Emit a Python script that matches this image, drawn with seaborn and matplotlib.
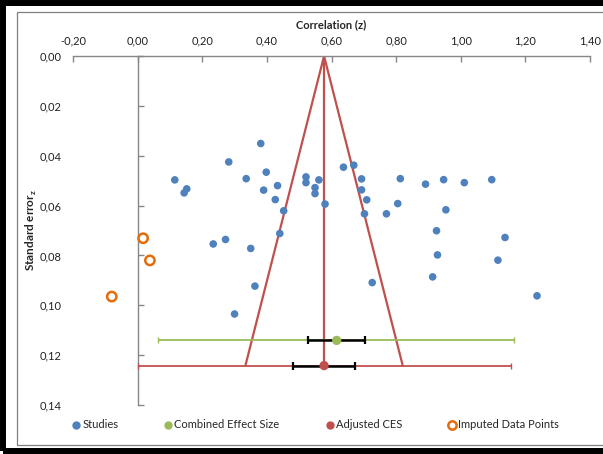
import matplotlib
matplotlib.use("Agg")
import matplotlib.pyplot as plt
import seaborn as sns
import pandas as pd
from matplotlib.patches import Rectangle
from matplotlib.lines import Line2D

# ---- data ----
study_z = [0.115, 0.144, 0.152, 0.282, 0.381, 0.336, 0.398, 0.390, 0.433, 0.426,
           0.452, 0.440, 0.521, 0.521, 0.561, 0.549, 0.549, 0.580, 0.637, 0.234,
           0.272, 0.350, 0.363, 0.300, 0.669, 0.693, 0.693, 0.709, 0.702, 0.726,
           0.770, 0.805, 0.813, 0.891, 0.947, 1.011, 1.096, 0.954, 0.925, 0.928,
           0.913, 1.137, 1.115, 1.236]
study_se = [0.0497, 0.0549, 0.0533, 0.0425, 0.0351, 0.0492, 0.0466, 0.0538, 0.0520, 0.0576,
            0.0621, 0.0712, 0.0485, 0.0508, 0.0497, 0.0528, 0.0552, 0.0594, 0.0446, 0.0754,
            0.0736, 0.0772, 0.0923, 0.1035, 0.0438, 0.0493, 0.0537, 0.0577, 0.0633, 0.0909,
            0.0633, 0.0592, 0.0492, 0.0514, 0.0496, 0.0508, 0.0496, 0.0617, 0.0701, 0.0798,
            0.0886, 0.0728, 0.0819, 0.0962]
imputed_z = [0.017, 0.038, -0.080]
imputed_se = [0.0731, 0.0820, 0.0965]

ces_z, ces_se = 0.616, 0.1141
ces_ci = [0.526, 0.705]
ces_pi = [0.064, 1.164]
adj_z, adj_se = 0.577, 0.1242
adj_ci = [0.481, 0.672]
adj_pi = [0.0, 1.157]
funnel_crit = 1.96

x_ticks = [-0.2, 0.0, 0.2, 0.4, 0.6, 0.8, 1.0, 1.2, 1.4]
x_labels = ["-0,20", "0,00", "0,20", "0,40", "0,60", "0,80", "1,00", "1,20", "1,40"]
y_ticks = [0.0, 0.02, 0.04, 0.06, 0.08, 0.10, 0.12, 0.14]
y_labels = ["0,00", "0,02", "0,04", "0,06", "0,08", "0,10", "0,12", "0,14"]
legend_labels = ["Studies", "Combined Effect Size", "Adjusted CES", "Imputed Data Points"]

BLUE = "#4F81BD"
GREEN = "#9BBB59"
RED = "#C0504D"
ORANGE = "#E46C0A"
GREY = "#868686"

sns.set_theme(style="white")
plt.rcParams["font.family"] = ["Lato", "DejaVu Sans"]
plt.rcParams["mathtext.fontset"] = "custom"
plt.rcParams["mathtext.bf"] = "Lato:bold"

W, H = 603, 454
fig = plt.figure(figsize=(W / 100, H / 100), dpi=100)
fig.patch.set_facecolor("white")
ax = fig.add_axes([73 / W, 1 - 405 / H, (590 - 73) / W, (405 - 56) / H])
ax.set_facecolor("white")

# funnel
ax.plot([adj_z - funnel_crit * adj_se, adj_z, adj_z + funnel_crit * adj_se],
        [adj_se, 0, adj_se], color=RED, lw=1.6, zorder=2)
ax.plot([adj_z, adj_z], [0, adj_se], color=RED, lw=1.6, zorder=2)

# studies and imputed points
df_s = pd.DataFrame({"z": study_z, "se": study_se})
sns.scatterplot(data=df_s, x="z", y="se", ax=ax, color=BLUE, s=30,
                edgecolor="none", zorder=4, legend=False)
df_i = pd.DataFrame({"z": imputed_z, "se": imputed_se})
sns.scatterplot(data=df_i, x="z", y="se", ax=ax, facecolor="none", edgecolor=ORANGE,
                linewidth=1.8, s=45, zorder=4, legend=False)

# combined effect size
ax.errorbar([ces_z], [ces_se], xerr=[[ces_z - ces_pi[0]], [ces_pi[1] - ces_z]],
            fmt="none", ecolor=GREEN, elinewidth=1.3, capsize=2.5, capthick=1.0, zorder=3)
ax.errorbar([ces_z], [ces_se], xerr=[[ces_z - ces_ci[0]], [ces_ci[1] - ces_z]],
            fmt="none", ecolor="black", elinewidth=1.8, capsize=3, capthick=1.6, zorder=3)
sns.scatterplot(x=[ces_z], y=[ces_se], ax=ax, color=GREEN, s=45, edgecolor="none",
                zorder=5, legend=False)

# adjusted CES
ax.errorbar([adj_z], [adj_se], xerr=[[adj_z - adj_pi[0]], [adj_pi[1] - adj_z]],
            fmt="none", ecolor=RED, elinewidth=1.3, capsize=2.5, capthick=1.0, zorder=3)
ax.errorbar([adj_z], [adj_se], xerr=[[adj_z - adj_ci[0]], [adj_ci[1] - adj_z]],
            fmt="none", ecolor="black", elinewidth=1.8, capsize=3, capthick=1.6, zorder=3)
sns.scatterplot(x=[adj_z], y=[adj_se], ax=ax, color=RED, s=45, edgecolor="none",
                zorder=5, legend=False)

# axes
ax.set_xlim(x_ticks[0], x_ticks[-1])
ax.set_ylim(y_ticks[-1], y_ticks[0])
for side in ["left", "right", "bottom"]:
    ax.spines[side].set_visible(False)
ax.spines["top"].set_visible(True)
ax.spines["top"].set_color(GREY)
ax.spines["top"].set_linewidth(1.0)

ax.xaxis.tick_top()
ax.xaxis.set_label_position("top")
ax.set_xticks(x_ticks)
ax.set_xticklabels(x_labels)
ax.tick_params(axis="x", which="both", top=True, bottom=False, labeltop=True,
               labelbottom=False, direction="in", length=4, width=1, color=GREY,
               pad=7, labelsize=8, labelcolor="#222222")
ax.set_xlabel("Correlation (z)", fontsize=8, fontweight="bold", labelpad=5)

ax.set_yticks(y_ticks)
ax.set_yticklabels(y_labels)
ax.tick_params(axis="y", which="both", left=False, right=False, length=0,
               pad=8, labelsize=8, labelcolor="#222222")
ax.set_ylabel(r"Standard error$_\mathbf{z}$", fontsize=8.5, fontweight="bold")
ax.yaxis.set_label_coords((39 - 73) / (590 - 73), 0.5)
ax.grid(False)

# vertical axis line crossing at z = 0
loc = (0 - x_ticks[0]) / (x_ticks[-1] - x_ticks[0])
sec = ax.secondary_yaxis(loc)
sec.set_yticks(y_ticks)
sec.tick_params(axis="y", direction="in", length=4, width=1, color=GREY, labelleft=False)
sec.spines["left"].set_color(GREY)
sec.spines["left"].set_linewidth(1.0)
for s in ["right", "top", "bottom"]:
    sec.spines[s].set_visible(False)

# legend
handles = [
    Line2D([], [], ls="none", marker="o", color=BLUE, markersize=5),
    Line2D([], [], ls="none", marker="o", color=GREEN, markersize=5),
    Line2D([], [], ls="none", marker="o", color=RED, markersize=5),
    Line2D([], [], ls="none", marker="o", markerfacecolor="none", markeredgecolor=ORANGE,
           markeredgewidth=1.8, markersize=6),
]
fig.legend(handles, legend_labels, loc="center", bbox_to_anchor=(316 / W, 1 - 425 / H),
           ncol=4, frameon=False, fontsize=8, handlelength=0.6, handletextpad=0.25,
           columnspacing=4.2)

# frames
fig.patches.append(Rectangle((17 / W, 1 - 445 / H), 1.2, (445 - 12) / H,
                             transform=fig.transFigure, fill=False, edgecolor="#7f7f7f",
                             lw=0.9, clip_on=False))
fig.patches.append(Rectangle((3.5 / W, 1 - 451 / H), 1.2, (451 - 2.5) / H,
                             transform=fig.transFigure, fill=False, edgecolor="black",
                             lw=4.3, clip_on=False))

fig.savefig("out.png", dpi=100, facecolor="white")
